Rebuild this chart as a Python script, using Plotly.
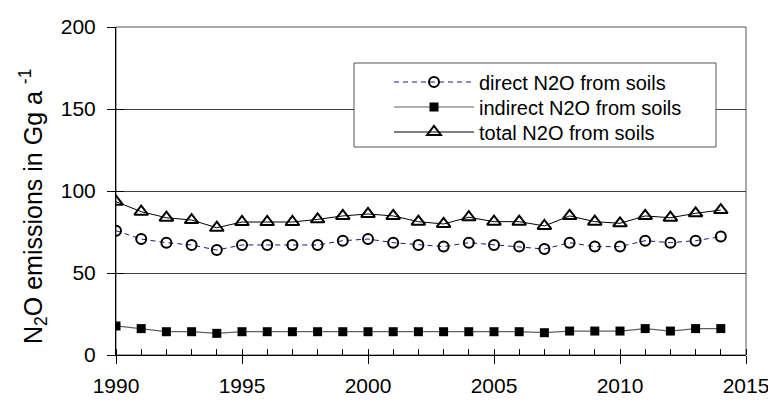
import plotly.graph_objects as go

years = list(range(1990, 2015))
direct = [75.8, 70.7, 68.5, 67.1, 64.0, 67.1, 67.1, 67.1, 67.1, 69.7, 70.7, 68.5, 67.1,
          66.1, 68.5, 67.1, 66.1, 64.6, 68.5, 66.1, 66.1, 69.7, 68.5, 69.7, 72.2]
indirect = [17.7, 16.1, 14.2, 14.2, 13.2, 14.2, 14.2, 14.2, 14.2, 14.2, 14.2, 14.2, 14.2,
            14.2, 14.2, 14.2, 14.2, 13.6, 14.6, 14.6, 14.6, 16.1, 14.6, 16.1, 16.1]
total = [93.5, 87.4, 83.7, 82.3, 77.6, 81.1, 81.1, 81.1, 82.7, 84.8, 86.0, 84.8, 81.3,
         79.9, 84.0, 81.3, 81.3, 78.7, 84.8, 81.3, 80.3, 84.8, 83.7, 86.4, 88.4]
names = ["direct N2O from soils", "indirect N2O from soils", "total N2O from soils"]
x_ticks = [1990, 1995, 2000, 2005, 2010, 2015]
y_ticks = [0, 50, 100, 150, 200]

FONT = "Liberation Sans, Arial, sans-serif"

# the page body adds an 8px margin; the figure is sized so it fills the window
OFF = 8
W, H = 776 - OFF, 404 - OFF
L, R, T, B = 116 - OFF, 30, 27 - OFF, 49
pw, ph = W - L - R, H - T - B

def px_x(p):
    return (p - OFF - L) / pw

def px_y(p):
    return (H - B - (p - OFF)) / ph

fig = go.Figure()
fig.add_trace(go.Scatter(
    x=years, y=direct, name=names[0], mode="lines+markers", legend="legend",
    line=dict(color="#1a1a80", width=1, dash="5px,4px"),
    marker=dict(symbol="circle-open", size=10, color="black", line=dict(width=2, color="black")),
))
fig.add_trace(go.Scatter(
    x=years, y=indirect, name=names[1], mode="lines+markers", legend="legend2",
    line=dict(color="#606060", width=1.2),
    marker=dict(symbol="square", size=9, color="black"),
))
fig.add_trace(go.Scatter(
    x=years, y=total, name=names[2], mode="lines+markers", legend="legend3",
    line=dict(color="black", width=1),
    marker=dict(symbol="triangle-up-open", size=12, color="black", line=dict(width=2, color="black")),
))

def legend_at(row_y):
    return dict(
        x=px_x(389), y=px_y(row_y), xanchor="left", yanchor="middle",
        bgcolor="rgba(0,0,0,0)", borderwidth=0,
        font=dict(family=FONT, size=20, color="black"),
        itemwidth=80,
    )

fig.update_layout(
    width=W, height=H,
    margin=dict(l=L, r=R, t=T, b=B, autoexpand=False),
    paper_bgcolor="white", plot_bgcolor="white",
    font=dict(family=FONT, size=21, color="black"),
    showlegend=True,
    legend=legend_at(82),
    legend2=legend_at(107),
    legend3=legend_at(132),
    xaxis=dict(
        range=[1990, 2015], tickvals=x_ticks, ticktext=[str(v) for v in x_ticks],
        showgrid=False, zeroline=False,
        showline=True, linecolor="black", linewidth=1,
        ticks="outside", ticklen=8, tickcolor="black", tickwidth=1,
        ticklabelstandoff=4,
        minor=dict(ticks="inside", dtick=1, tick0=1990, ticklen=6, tickcolor="black", tickwidth=1, showgrid=False),
        tickfont=dict(size=21),
    ),
    xaxis2=dict(
        range=[1990, 2015], overlaying="x", side="bottom", tickvals=x_ticks,
        showticklabels=False, ticks="inside", ticklen=6, tickcolor="black",
        showgrid=False, zeroline=False, showline=False,
    ),
    yaxis=dict(
        range=[0, 200], tickvals=y_ticks,
        showgrid=True, gridcolor="#404040", gridwidth=1, zeroline=False,
        showline=True, linecolor="black", linewidth=1,
        ticks="outside", ticklen=8, tickcolor="black", tickwidth=1,
        ticklabelstandoff=7,
        tickfont=dict(size=21),
    ),
    yaxis2=dict(
        range=[0, 200], overlaying="y", side="left", tickvals=y_ticks,
        showticklabels=False, ticks="inside", ticklen=8, tickcolor="black",
        showgrid=False, zeroline=False, showline=False,
    ),
)

# plot border (top and right) and legend frame
fig.add_shape(type="rect", xref="paper", yref="paper", x0=0, x1=1, y0=0, y1=1,
              line=dict(color="#555555", width=1), layer="below")
fig.add_shape(type="rect", xref="paper", yref="paper",
              x0=px_x(354), x1=px_x(716), y0=px_y(147), y1=px_y(63),
              line=dict(color="#555555", width=1), fillcolor="white", layer="above")

# invisible trace that activates the overlay axes (inside tick halves)
fig.add_trace(go.Scatter(x=[1990], y=[0], xaxis="x2", yaxis="y2", mode="markers",
                         marker=dict(opacity=0), showlegend=False, hoverinfo="skip"))

fig.add_annotation(
    text="N<sub>2</sub>O emissions in Gg a <sup>-1</sup>",
    xref="paper", yref="paper", x=px_x(33), y=px_y(207),
    textangle=-90, showarrow=False, font=dict(family=FONT, size=25, color="black"),
    xanchor="center", yanchor="middle",
)

fig.write_html("out.html")
